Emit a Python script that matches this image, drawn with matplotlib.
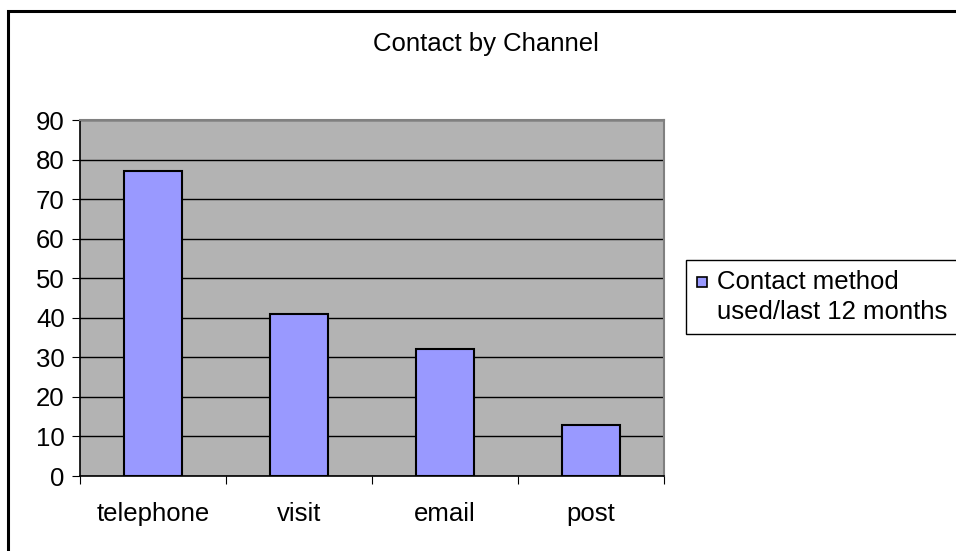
import matplotlib.pyplot as plt
from matplotlib.patches import Rectangle

categories = ["telephone", "visit", "email", "post"]
values = [77, 41, 32, 13]
series_name = "Contact method\nused/last 12 months"
yticks = [0, 10, 20, 30, 40, 50, 60, 70, 80, 90]

plt.rcParams['font.family'] = ['Liberation Sans', 'DejaVu Sans']
FS = 18.5
BAR_COLOR = '#9999FF'

W, H = 956, 551
fig = plt.figure(figsize=(W / 100, H / 100), dpi=100)


def px(x, y):
    """Pixel position (from top-left) to figure fraction."""
    return x / W, 1 - y / H


# chart-area border
fig.patches.append(Rectangle((8 / W, -0.01), 1.0, 1 - 11 / H + 0.01,
                             transform=fig.transFigure, fill=False,
                             edgecolor='black', linewidth=2.2))

ax = fig.add_axes([80 / W, (H - 476) / H, (664 - 80) / W, (476 - 120) / H])
ax.set_facecolor('#B3B3B3')
x = range(len(categories))
bars = ax.bar(x, values, width=0.4, color=BAR_COLOR, edgecolor='black',
              linewidth=1.5, zorder=3, label=series_name)

ax.set_xlim(-0.5, len(categories) - 0.5)
ax.set_ylim(0, 90)
ax.set_yticks(yticks)
ax.yaxis.grid(True, color='black', linewidth=1.0, zorder=1)
ax.set_axisbelow(True)

ax.set_xticks([i - 0.5 for i in range(len(categories) + 1)])
ax.set_xticklabels([])
ax.set_xticks(list(x), minor=True)
ax.set_xticklabels(categories, minor=True, fontsize=FS)
ax.tick_params(axis='x', which='minor', length=0, pad=19)
ax.tick_params(axis='x', which='major', length=6, direction='out', color='black')
ax.tick_params(axis='y', length=6, direction='out', labelsize=FS, pad=5)

for side in ['top', 'right']:
    ax.spines[side].set_color('#808080')
    ax.spines[side].set_linewidth(1.5)
ax.spines['left'].set_color('black')
ax.spines['bottom'].set_color('black')
ax.spines['left'].set_linewidth(1.2)
ax.spines['bottom'].set_linewidth(1.2)

fig.text(*px(486, 44), "Contact by Channel", ha='center', va='center',
         fontsize=FS)

# legend box: frame, swatch aligned with the first text line, label
x0, y0 = px(686, 334)
x1, y1 = px(972, 260)
fig.patches.append(Rectangle((x0, y0), x1 - x0, y1 - y0,
                             transform=fig.transFigure, facecolor='white',
                             edgecolor='black', linewidth=1.0, zorder=5))
sx0, sy0 = px(697, 287)
sx1, sy1 = px(707, 277)
fig.patches.append(Rectangle((sx0, sy0), sx1 - sx0, sy1 - sy0,
                             transform=fig.transFigure, facecolor=BAR_COLOR,
                             edgecolor='black', linewidth=1.2, zorder=6))
fig.text(*px(717, 297), series_name, ha='left', va='center', fontsize=FS,
         linespacing=1.3, zorder=7)

fig.savefig("out.png", dpi=100)
